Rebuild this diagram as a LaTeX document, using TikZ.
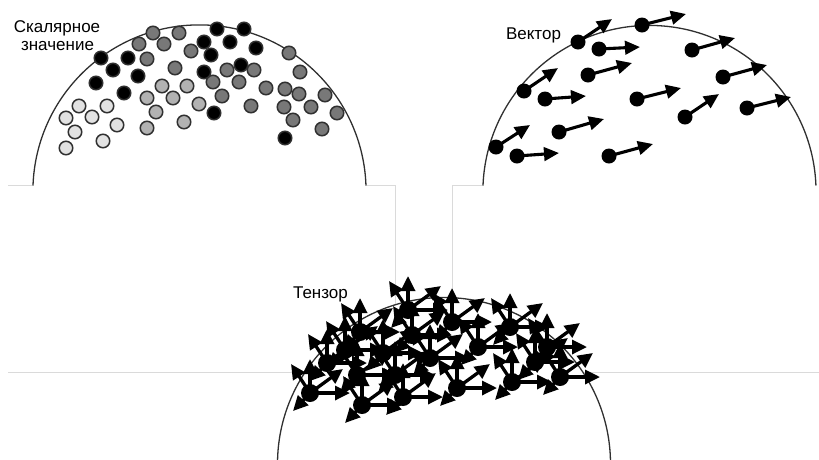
\documentclass[tikz,border=0pt]{standalone}
\usepackage{fontspec}
\setmainfont{Liberation Sans}
\usetikzlibrary{arrows.meta}
\definecolor{frameline}{HTML}{DADADA}
\definecolor{rim}{HTML}{303030}
\definecolor{dkgray}{HTML}{787878}
\definecolor{mdgray}{HTML}{B2B2B2}
\definecolor{ltgray}{HTML}{E2E2E2}

\begin{document}
\begin{tikzpicture}[x=1pt,y=-1pt,
  frame/.style={frameline, line width=0.9pt},
  dome/.style={rim, line width=1.3pt},
  sdot/.style={circle, draw=rim, line width=1.5pt, minimum size=13.5pt, inner sep=0pt},
  blk/.style={sdot, fill=black},
  dkd/.style={sdot, fill=dkgray},
  mdd/.style={sdot, fill=mdgray},
  ltd/.style={sdot, fill=ltgray},
  vdot/.style={circle, fill=black, minimum size=15pt, inner sep=0pt},
  tdot/.style={circle, fill=black, minimum size=18pt, inner sep=0pt},
  lbl/.style={font=\fontsize{17}{20}\selectfont, inner sep=0pt, anchor=base},
  vecarrow/.style={line width=3.1pt, -{Triangle[length=15pt,width=13.5pt]}},
  tenarrow/.style={line width=3.3pt, -{Triangle[length=15pt,width=14pt]}},
]
\useasboundingbox (0,0) rectangle (819,459);

% light frame lines of the three panels
\draw[frame] (8,185.5) -- (33,185.5);
\draw[frame] (366,185.5) -- (395,185.5) -- (395,459);
\draw[frame] (452,459) -- (452,185.5) -- (483,185.5);
\draw[frame] (8,372) -- (819,372);

% domes
\fill[white] (444,464) circle[radius=166.5pt];
\draw[dome] (33,185.5) arc[start angle=177.94, end angle=2.06, radius=166.6pt];
\draw[dome] (483,185.5) arc[start angle=177.76, end angle=2.24, radius=166.6pt];
\draw[dome] (444,464) circle[radius=166.5pt];

% scalar field: grey-level dots
\foreach \x/\y [count=\i] in {79/106, 107/106, 66/118, 92/117, 75/132, 117/125, 66/148, 103/141}
  \node[ltd] (l\i) at (\x,\y) {};
\foreach \x/\y [count=\i] in {162/86, 187/86, 147/98, 173/98, 199/104, 156/112, 147/128, 184/122}
  \node[mdd] (m\i) at (\x,\y) {};
\foreach \x/\y [count=\i] in {153/33, 179/33, 139/44, 164/44, 191/51, 147/59, 175/68, 227/70,
    254/70, 213/82, 239/82, 222/96, 266/88, 251/106, 289/53, 300/72, 285/89, 299/94,
    325/95, 284/107, 311/107, 337/113, 293/120, 322/129}
  \node[dkd] (d\i) at (\x,\y) {};
\foreach \x/\y [count=\i] in {101/58, 113/70, 128/58, 96/83, 138/76, 124/93, 217/29, 244/29,
    204/42, 230/42, 256/48, 211/55, 241/65, 204/72, 214/113, 285/138}
  \node[blk] (k\i) at (\x,\y) {};

% vector field
\foreach \x/\y/\u/\v [count=\i] in {578/42/612/19, 642/25/686/14, 599/49/640/47, 692/50/735/38,
    588/75/632/63, 524/91/558/68, 545/99/586/96, 723/77/767/65, 637/99/681/88,
    685/117/719/94, 747/108/791/97, 559/132/604/119, 496/147/530/125,
    517/156/559/153, 609/156/653/144}
{
  \node[vdot] (v\i) at (\x,\y) {};
  \coordinate (vt\i) at (\u,\v);
  \draw[vecarrow] (v\i.center) -- (vt\i);
}

% tensor field: five arrows from every point
\foreach \x/\y [count=\i] in {408/310, 360/332, 412/335, 452/322, 510/327, 383/353, 430/358,
    478/347, 547/347, 327/363, 357/375, 395/375, 457/388, 512/382, 560/377,
    310/393, 362/405, 403/397, 345/350, 535/362}
{
  \node[tdot] (t\i) at (\x,\y) {};
  \foreach \dx/\dy in {0/-34, 40/0, 33/-24, -19/-29, -17/18}
    \draw[tenarrow] (t\i.center) -- ++(\dx,\dy);
}

% labels
\node[lbl] (scalA) at (57,32) {Скалярное};
\node[lbl] (scalB) at (57.5,50.5) {значение};
\node[lbl] (vlabel) at (533.5,39.5) {Вектор};
\node[lbl] (tlabel) at (320.5,298) {Тензор};
\end{tikzpicture}
\end{document}
